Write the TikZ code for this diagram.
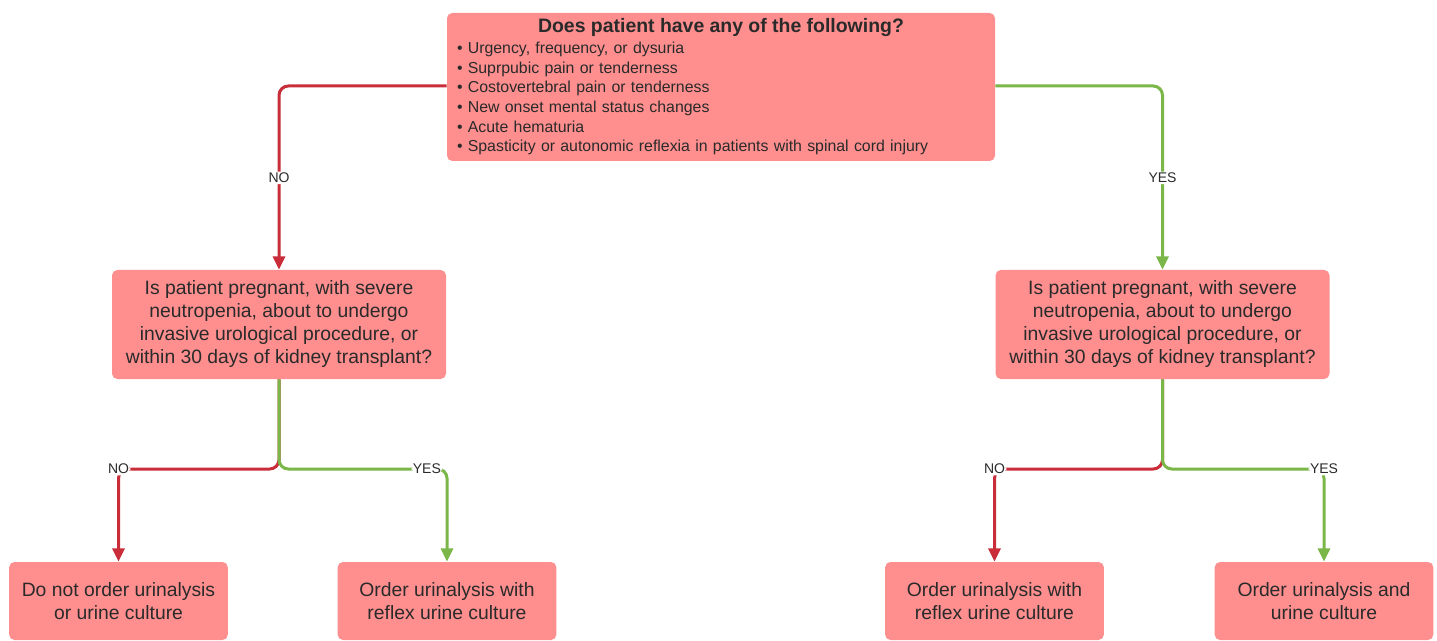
\documentclass[tikz,border=0pt]{standalone}
\usepackage{fontspec}
\setmainfont{Liberation Sans}
\usetikzlibrary{positioning, arrows.meta}

\definecolor{boxfill}{HTML}{FF8F8F}
\definecolor{nored}{HTML}{C92D39}
\definecolor{yesgreen}{HTML}{7AB648}
\definecolor{txtgrey}{HTML}{2A2A2A}

\begin{document}
\begin{tikzpicture}[->,>={Triangle[width=9pt,length=10pt]}, x=0.75pt, y=-0.75pt,
                  box/.style={rectangle, fill=boxfill, rounded corners=4pt,
                  text=txtgrey, align=center, inner sep=0pt,
                  font=\fontsize{14.5}{17.25}\selectfont},
                  midbox/.style={box, minimum width=250.5pt, minimum height=81.75pt},
                  endbox/.style={box, minimum width=164pt, minimum height=58.5pt},
                  nobranch/.style={draw=nored, line width=2.25pt, rounded corners=7pt},
                  yesbranch/.style={draw=yesgreen, line width=2.25pt, rounded corners=7pt},
                  lbl/.style={fill=white, text=txtgrey, inner sep=1pt,
                  font=\fontsize{10.5}{12}\selectfont}]

                  \clip (0,0) rectangle (1437,641);

                  % Colocamos las preguntas.
                  \node[box, minimum width=411pt, minimum height=111pt,
                  text width=396pt, align=left,
                  font=\fontsize{11.9}{14.8}\selectfont] (symp) at (721,87)
                  {\makebox[\linewidth]{\fontsize{14.6}{15}\selectfont\bfseries
                  Does patient have any of the following?}\\[0.5pt]
                  \textbullet\ Urgency, frequency, or dysuria\\
                  \textbullet\ Suprpubic pain or tenderness\\
                  \textbullet\ Costovertebral pain or tenderness\\
                  \textbullet\ New onset mental status changes\\
                  \textbullet\ Acute hematuria\\
                  \textbullet\ Spasticity or autonomic reflexia in patients with spinal cord injury};
                  \node[midbox] (riskNo) at (279,324.5)
                  {Is patient pregnant, with severe\\ neutropenia, about to undergo\\
                  invasive urological procedure, or\\ within 30 days of kidney transplant?};
                  \node[midbox] (riskYes) at (1162.5,324.5)
                  {Is patient pregnant, with severe\\ neutropenia, about to undergo\\
                  invasive urological procedure, or\\ within 30 days of kidney transplant?};

                  % Colocamos las decisiones finales.
                  \node[endbox] (noUA) at (118.5,601) {Do not order urinalysis\\ or urine culture};
                  \node[endbox] (reflexL) at (447,601) {Order urinalysis with\\ reflex urine culture};
                  \node[endbox] (reflexR) at (994.5,601) {Order urinalysis with\\ reflex urine culture};
                  \node[endbox] (uaCult) at (1324,601) {Order urinalysis and\\ urine culture};

                  % Puntos donde se separan las ramas.
                  \coordinate (jNo) at (279,469);
                  \coordinate (jYes) at (1162,469);

                  % Dibujamos las ramas.
                  \draw[nobranch] (symp.west |- 0,86) -| node[lbl, pos=.75]{NO} (riskNo.north);
                  \draw[yesbranch] (symp.east |- 0,86) -| node[lbl, pos=.75]{YES} (riskYes.north);
                  \draw[nobranch] (riskNo.south) |- (noUA.north |- jNo)
                  node[lbl]{NO} -- (noUA.north);
                  \draw[yesbranch] (riskNo.south) |- node[lbl, pos=.94]{YES}
                  (reflexL.north |- jNo) -- (reflexL.north);
                  \draw[nobranch] (riskYes.south) |- (reflexR.north |- jYes)
                  node[lbl]{NO} -- (reflexR.north);
                  \draw[yesbranch] (riskYes.south) |- (uaCult.north |- jYes)
                  node[lbl]{YES} -- (uaCult.north);

                \end{tikzpicture}
\end{document}
